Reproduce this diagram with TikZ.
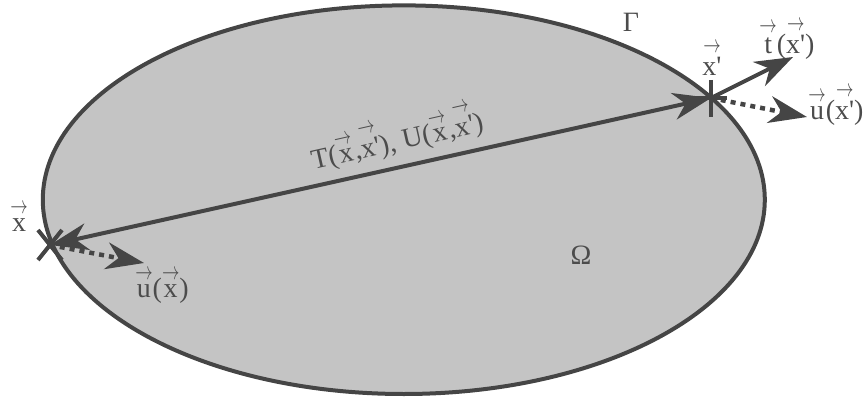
\documentclass[tikz,border=0pt]{standalone}
\usepackage{fontspec}
\setmainfont{Liberation Serif}
\usepackage{amsmath}
\usepackage{graphicx}
\usetikzlibrary{arrows.meta,calc}
\definecolor{ln}{HTML}{454545}
\definecolor{fl}{HTML}{C4C4C4}
\definecolor{tx}{HTML}{4C4C4C}
\newcommand{\va}[1]{\ensuremath{\overset{\mbox{\scalebox{0.7}[1]{$\rightarrow$}}}{\mbox{#1}}}}
\newcommand{\pr}{\textquotesingle}
\tikzset{
  lbl/.style={text=tx, font=\fontsize{28}{32}\selectfont, inner sep=0pt},
  tip/.style={-{Stealth[length=38pt,width=27pt,inset=12pt]}},
  dtip/.style={{Stealth[length=38pt,width=27pt,inset=12pt]}-{Stealth[length=38pt,width=27pt,inset=12pt]}},
  solidln/.style={draw=ln, line width=4pt},
  dotln/.style={draw=ln, line width=4.5pt, dash pattern=on 5pt off 5pt},
}
\begin{document}
\begin{tikzpicture}[x=1pt,y=-1pt]
\useasboundingbox (0,0) rectangle (866,403);
\coordinate (c) at (403.8,199.7);
\draw[solidln, fill=fl] (c) ellipse [x radius=361pt, y radius=194.3pt];
\coordinate (x) at (50,245);
\coordinate (xp) at (711,98);
\coordinate (tend) at (793,57);
\coordinate (upend) at (807,117);
\coordinate (uend) at (144,263);
% crosses
\draw[solidln] ($(x)+(-12,-15)$) -- ($(x)+(12,15)$);
\draw[solidln] ($(x)+(-12,15)$) -- ($(x)+(12,-15)$);
\draw[solidln] ($(xp)+(0,-18)$) -- ($(xp)+(0,19)$);
\draw[solidln] ($(xp)+(-14,0)$) -- ($(xp)+(16,0)$);
% connectors
\draw[solidln, dtip] (x) -- (xp);
\draw[solidln, tip] (xp) -- (tend);
\draw[dotln, tip] (xp) -- (upend);
\draw[dotln, tip] (x) -- (uend);
% labels
\node[lbl] (lx) at (19,217) {\va{x}};
\node[lbl] (lux) at (162,286) {\va{u}(\va{x})};
\node[lbl] (lxp) at (712,58) {\va{x\pr}};
\node[lbl] (ltxp) at (787,39) {\va{t}(\va{x\pr})};
\node[lbl] (luxp) at (836,105) {\va{u}(\va{x\pr})};
\node[lbl] (gam) at (631,22) {Γ};
\node[lbl] (om) at (581,255) {Ω};
\node[lbl, rotate=12.7] (tu) at (396,136) {T(\va{x},\va{x\pr}), U(\va{x},\va{x\pr})};
\end{tikzpicture}
\end{document}
